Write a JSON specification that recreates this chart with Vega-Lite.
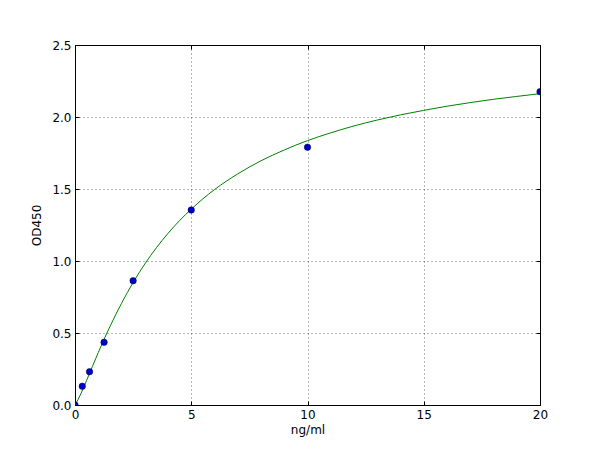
{
  "$schema": "https://vega.github.io/schema/vega-lite/v6.json",
  "width": 465,
  "height": 360,
  "autosize": {"type": "none"},
  "padding": {"left": 75, "top": 45, "right": 60, "bottom": 45},
  "background": "white",
  "config": {
    "view": {"stroke": "black", "strokeWidth": 1},
    "font": "DejaVu Sans",
    "axis": {
      "labelFont": "DejaVu Sans",
      "titleFont": "DejaVu Sans",
      "labelFontSize": 12,
      "titleFontSize": 12,
      "titleFontWeight": "normal",
      "labelColor": "black",
      "titleColor": "black",
      "domainColor": "black",
      "tickColor": "black",
      "tickSize": -4,
      "labelFlush": false,
      "gridColor": "black",
      "gridDash": [1, 3],
      "gridOpacity": 0.6
    }
  },
  "datasets": {
    "points": [
      {"conc": 0, "od": 0.0},
      {"conc": 0.3125, "od": 0.13},
      {"conc": 0.625, "od": 0.231},
      {"conc": 1.25, "od": 0.435},
      {"conc": 2.5, "od": 0.863},
      {"conc": 5, "od": 1.354},
      {"conc": 10, "od": 1.79},
      {"conc": 20, "od": 2.176}
    ],
    "curve": [
      {"conc": 0, "od": 0.0},
      {"conc": 0.25, "od": 0.077},
      {"conc": 0.5, "od": 0.171},
      {"conc": 0.75, "od": 0.268},
      {"conc": 1, "od": 0.364},
      {"conc": 1.5, "od": 0.544},
      {"conc": 2, "od": 0.706},
      {"conc": 2.5, "od": 0.851},
      {"conc": 3, "od": 0.979},
      {"conc": 3.5, "od": 1.092},
      {"conc": 4, "od": 1.192},
      {"conc": 4.5, "od": 1.281},
      {"conc": 5, "od": 1.36},
      {"conc": 6, "od": 1.496},
      {"conc": 7, "od": 1.605},
      {"conc": 8, "od": 1.696},
      {"conc": 9, "od": 1.771},
      {"conc": 10, "od": 1.836},
      {"conc": 11, "od": 1.89},
      {"conc": 12, "od": 1.938},
      {"conc": 13, "od": 1.979},
      {"conc": 14, "od": 2.015},
      {"conc": 15, "od": 2.046},
      {"conc": 16, "od": 2.075},
      {"conc": 17, "od": 2.1},
      {"conc": 18, "od": 2.123},
      {"conc": 19, "od": 2.143},
      {"conc": 20, "od": 2.162}
    ]
  },
  "resolve": {"axis": {"x": "independent", "y": "independent"}},
  "layer": [
    {
      "data": {"name": "curve"},
      "mark": {"type": "line", "color": "#008000", "strokeWidth": 1, "interpolate": "monotone", "clip": true},
      "encoding": {
        "x": {"field": "conc", "type": "quantitative", "scale": {"domain": [0, 20], "nice": false},
          "axis": {"title": "ng/ml", "values": [0, 5, 10, 15, 20], "labelPadding": 8, "titlePadding": 4, "grid": true}},
        "y": {"field": "od", "type": "quantitative", "scale": {"domain": [0, 2.5], "nice": false},
          "axis": {"title": "OD450", "values": [0, 0.5, 1, 1.5, 2, 2.5], "format": ".1f", "labelPadding": 8, "titlePadding": 8, "grid": true}}
      }
    },
    {
      "data": {"name": "points"},
      "mark": {"type": "point", "filled": true, "color": "#0000cc", "size": 42, "opacity": 1, "stroke": "#000044", "strokeWidth": 0.5, "clip": true},
      "encoding": {
        "x": {"field": "conc", "type": "quantitative",
          "axis": {"orient": "top", "labels": false, "title": null, "values": [0, 5, 10, 15, 20], "grid": false}},
        "y": {"field": "od", "type": "quantitative",
          "axis": {"orient": "right", "labels": false, "title": null, "values": [0, 0.5, 1, 1.5, 2, 2.5], "grid": false}}
      }
    }
  ]
}
